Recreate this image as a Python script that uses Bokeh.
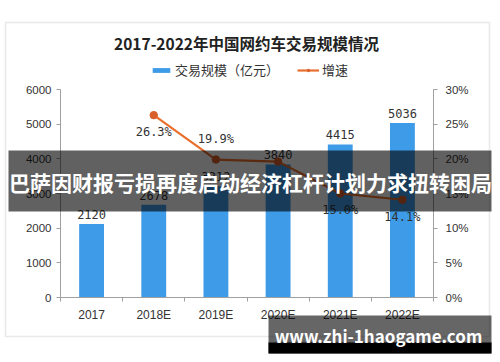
from bokeh.plotting import figure
from bokeh.models import (Range1d, LinearAxis, FixedTicker, ColumnDataSource, Label,
                          BoxAnnotation, Legend, LegendItem)
from bokeh.core.properties import value
from bokeh.embed import file_html
from bokeh.resources import INLINE

# ---------------- data ----------------
categories = ["2017", "2018E", "2019E", "2020E", "2021E", "2022E"]
volume = [2120, 2678, 3212, 3840, 4415, 5036]          # 交易规模（亿元）
growth = [None, 26.3, 19.9, 19.6, 15.0, 14.1]           # 增速 (%)
growth_labels = ["", "26.3%", "19.9%", "", "15.0%", "14.1%"]
left_ticks = [0, 1000, 2000, 3000, 4000, 5000, 6000]
right_ticks = [0, 5, 10, 15, 20, 25, 30]
right_tick_labels = ["0%", "5%", "10%", "15%", "20%", "25%", "30%"]

title_text = "2017-2022年中国网约车交易规模情况"
banner_text = "巴萨因财报亏损再度启动经济杠杆计划力求扭转困局"
site_text = "www.zhi-1haogame.com"

# ---------------- layout ----------------
W, H = 500, 362
FL, FR, FT, FB = 60, 433, 89, 297      # chart area edges in pixels
n = len(categories)
YMAX, PMAX = 6000, 30
xs = [i + 0.5 for i in range(n)]
label_dy = [0, 17, -21, 0, 16, 17]      # growth label offsets (px)

def fx(px):
    return (px - FL) * n / (FR - FL)

def fy(py):
    return (FB - py) * YMAX / (FB - FT)

BLUE = "#3e9be8"
ORANGE = "#ea6f2c"
TXT = "#333333"
AX = "#a0a0a0"
SANS = "Noto Sans CJK SC"

p = figure(width=W, height=H, output_backend="svg", toolbar_location=None,
           x_range=Range1d(fx(0), fx(W)), y_range=Range1d(fy(H), fy(0)),
           min_border=0, x_axis_location=None, y_axis_location=None)
p.outline_line_color = None
p.grid.visible = False
p.background_fill_color = "white"
p.border_fill_color = "white"
p.extra_y_ranges = {"pct": Range1d(fy(H) * PMAX / YMAX, fy(0) * PMAX / YMAX)}

# axes (fixed at the chart-area edges)
xaxis = LinearAxis(ticker=FixedTicker(ticks=xs, minor_ticks=list(range(n + 1))),
                   major_label_overrides={x: c for x, c in zip(xs, categories)},
                   fixed_location=0, bounds=(0, n))
xaxis.major_tick_out = 0
xaxis.major_tick_in = 0
xaxis.minor_tick_out = 4
xaxis.minor_tick_in = 0
xaxis.minor_tick_line_color = AX
xaxis.axis_line_color = AX
xaxis.major_label_standoff = 6
xaxis.major_label_text_font = "Liberation Sans"
xaxis.major_label_text_font_size = "12px"
xaxis.major_label_text_color = TXT
p.add_layout(xaxis, "below")

laxis = LinearAxis(ticker=FixedTicker(ticks=left_ticks, minor_ticks=[]),
                   fixed_location=0, bounds=(0, YMAX))
raxis = LinearAxis(y_range_name="pct", ticker=FixedTicker(ticks=right_ticks, minor_ticks=[]),
                   major_label_overrides={t: l for t, l in zip(right_ticks, right_tick_labels)},
                   fixed_location=n, bounds=(0, PMAX))
for ax in (laxis, raxis):
    ax.major_tick_out = 4
    ax.major_tick_in = 0
    ax.major_tick_line_color = AX
    ax.axis_line_color = AX
    ax.major_label_text_font = "Liberation Sans"
    ax.major_label_text_font_size = "11.5px"
    ax.major_label_text_color = TXT
laxis.major_label_standoff = 5
raxis.major_label_standoff = 8
p.add_layout(laxis, "left")
p.add_layout(raxis, "right")

# bars
src = ColumnDataSource(dict(x=xs, v=volume, t=[str(v) for v in volume]))
bars = p.vbar(x="x", top="v", width=0.4, source=src, fill_color=BLUE, line_color=None)
p.text(x="x", y="v", text="t", source=src, text_align="center", text_baseline="bottom",
       y_offset=-5, text_font=value("DejaVu Sans Mono"), text_font_size="12px", text_color=TXT)

# growth line
gx = [x for x, g in zip(xs, growth) if g is not None]
gy = [g for g in growth if g is not None]
gl = [l for l, g in zip(growth_labels, growth) if g is not None]
gd = [d for d, g in zip(label_dy, growth) if g is not None]
gsrc = ColumnDataSource(dict(x=gx, y=gy, t=gl, dy=gd))
line = p.line(x="x", y="y", source=gsrc, y_range_name="pct", line_color=ORANGE, line_width=2.2)
dots = p.scatter(x="x", y="y", source=gsrc, y_range_name="pct", size=7.5,
                 fill_color="#d9602a", line_color="#d9602a")
p.text(x="x", y="y", text="t", source=gsrc, y_range_name="pct", y_offset="dy",
       text_align="center", text_baseline="middle",
       text_font=value("DejaVu Sans Mono"), text_font_size="12px", text_color=TXT)

# legend
legend = Legend(items=[LegendItem(label="交易规模（亿元）", renderers=[bars]),
                       LegendItem(label="增速", renderers=[line, dots])],
                orientation="horizontal", location=(150, H - 79),
                glyph_width=22, glyph_height=6, label_height=14, label_standoff=3,
                spacing=18, padding=0, margin=0, border_line_color=None,
                background_fill_alpha=0, label_text_font=SANS,
                label_text_font_size="13px", label_text_color=TXT)
p.add_layout(legend, "center")

# title
p.add_layout(Label(x=fx(246), y=fy(42), text=title_text, text_align="center",
                   text_baseline="middle", text_font=SANS, text_font_size="15.5px",
                   text_font_style="bold", text_color="#222222"))

# outer chart frame
p.add_layout(BoxAnnotation(left=fx(5), right=fx(489), top=fy(22), bottom=fy(336),
                           fill_alpha=0, line_color="#b5b5b5", line_width=1.5))

# overlay banner
p.add_layout(BoxAnnotation(left=fx(8), right=fx(491), top=fy(150), bottom=fy(211),
                           fill_color="black", fill_alpha=0.62, line_color=None))
p.add_layout(Label(x=fx(250), y=fy(181), text=banner_text, text_align="center",
                   text_baseline="middle", text_font=SANS, text_font_size="21px",
                   text_font_style="bold", text_color="white"))

# site watermark
p.add_layout(BoxAnnotation(left=fx(268), right=fx(491), top=fy(315), bottom=fy(353),
                           fill_color="black", fill_alpha=0.6, line_color=None))
p.add_layout(BoxAnnotation(left=fx(268), right=fx(491), top=fy(342), bottom=fy(353),
                           fill_color="black", fill_alpha=1.0, line_color=None))
p.add_layout(Label(x=fx(378), y=fy(335), text=site_text, text_align="center",
                   text_baseline="middle", text_font=SANS, text_font_size="17px",
                   text_font_style="bold", text_color="white"))

open("out.html", "w").write(file_html(p, INLINE))
